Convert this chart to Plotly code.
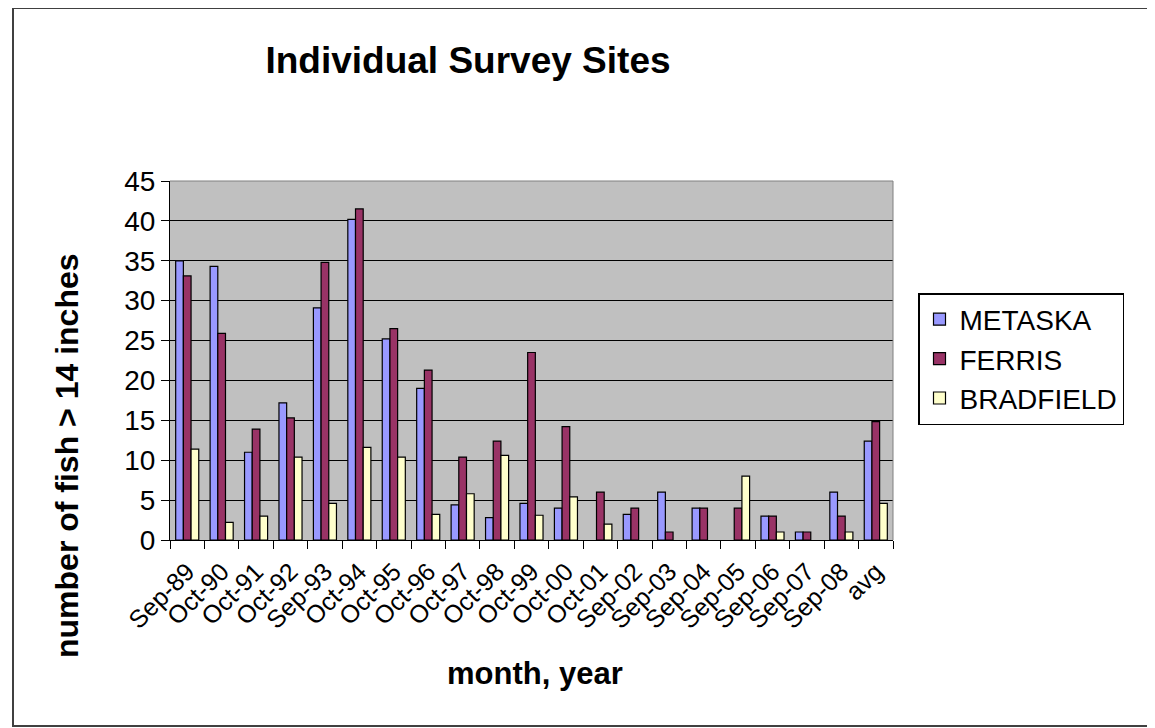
import plotly.graph_objects as go

categories = ["Sep-89", "Oct-90", "Oct-91", "Oct-92", "Sep-93", "Oct-94", "Oct-95",
              "Oct-96", "Oct-97", "Oct-98", "Oct-99", "Oct-00", "Oct-01", "Sep-02",
              "Sep-03", "Sep-04", "Sep-05", "Sep-06", "Sep-07", "Sep-08", "avg"]

metaska = [35, 34.3, 11, 17.2, 29.1, 40.2, 25.2, 19, 4.4, 2.8, 4.6, 4, 0, 3.2,
           6, 4, 0, 3, 1, 6, 12.4]
ferris = [33.1, 25.9, 13.9, 15.3, 34.8, 41.5, 26.5, 21.3, 10.4, 12.4, 23.5, 14.2, 6, 4,
          1, 4, 4, 3, 1, 3, 14.85]
bradfield = [11.4, 2.2, 3, 10.4, 4.6, 11.6, 10.4, 3.2, 5.8, 10.6, 3.1, 5.4, 2, 0,
             0, 0, 8, 1, 0, 1, 4.6]

y_ticks = [0, 5, 10, 15, 20, 25, 30, 35, 40, 45]

series = [("METASKA", metaska, "#9999FF"),
          ("FERRIS", ferris, "#993366"),
          ("BRADFIELD", bradfield, "#FFFFCC")]

FONT = "Liberation Sans, Arial, sans-serif"

fig = go.Figure()
for name, vals, col in series:
    fig.add_trace(go.Bar(
        x=categories, y=[v if v else None for v in vals], name=name,
        legendgroup=name,
        marker=dict(color=col, line=dict(color="black", width=1.2)),
    ))

# the page body adds an 8px offset; compensate so screen positions match
OFF = 8
W, H = 1155 - OFF, 728 - OFF
L, R, T, B = 170 - OFF, 893 - OFF, 181 - OFF, 540 - OFF


def px(x):
    return (x - OFF - L) / (R - L)


def py(y):
    return (B - (y - OFF)) / (B - T)


fig.update_layout(
    width=W, height=H,
    margin=dict(l=L, r=W - R, t=T, b=H - B, autoexpand=False),
    paper_bgcolor="white",
    plot_bgcolor="#C0C0C0",
    barmode="group",
    bargap=0.33,
    bargroupgap=0,
    font=dict(family=FONT, color="black"),
    title=dict(text="<b>Individual Survey Sites</b>", x=(468 - OFF) / W, xanchor="center",
               y=1 - (60 - OFF) / H, yanchor="middle",
               font=dict(size=37, family=FONT, color="black")),
    showlegend=True,
    legend=dict(x=px(918), y=py(293), xanchor="left", yanchor="top",
                bgcolor="white", bordercolor="black", borderwidth=1.5,
                font=dict(size=28, family=FONT, color="black"),
                traceorder="normal", tracegroupgap=4),
    xaxis=dict(type="category", showline=True, linecolor="black", linewidth=1,
               ticks="outside", tickson="boundaries", ticklen=8, tickcolor="black",
               tickangle=-45, tickfont=dict(size=25, family=FONT, color="black"),
               ticklabelstandoff=6,
               showgrid=False, zeroline=False),
    yaxis=dict(range=[0, 45], tickvals=y_ticks, showline=True, linecolor="black",
               linewidth=1, ticks="outside", ticklen=8, tickcolor="black",
               tickfont=dict(size=28, family=FONT, color="black"),
               showgrid=True, gridcolor="black", gridwidth=1, zeroline=False),
    annotations=[
        dict(text="<b>number of fish > 14 inches</b>", xref="paper", yref="paper",
             x=px(67), y=py(456), textangle=-90, showarrow=False,
             xanchor="center", yanchor="middle",
             font=dict(size=32, family=FONT, color="black")),
        dict(text="<b>month, year</b>", xref="paper", yref="paper",
             x=px(535), y=py(673), showarrow=False,
             xanchor="center", yanchor="middle",
             font=dict(size=31, family=FONT, color="black")),
    ],
    shapes=[
        dict(type="rect", xref="paper", yref="paper",
             x0=px(13), x1=px(1152), y0=py(726), y1=py(8),
             line=dict(color="#404040", width=2), layer="below"),
        dict(type="line", xref="paper", yref="paper", x0=0, x1=1, y0=1, y1=1,
             line=dict(color="#808080", width=1), layer="above"),
        dict(type="line", xref="paper", yref="paper", x0=1, x1=1, y0=0, y1=1,
             line=dict(color="#808080", width=1), layer="above"),
    ],
)

fig.write_html("out.html")
